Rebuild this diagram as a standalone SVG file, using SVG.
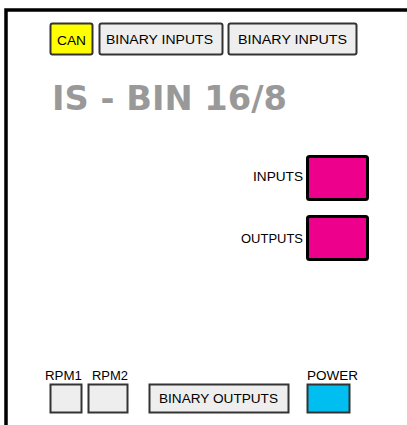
<svg xmlns="http://www.w3.org/2000/svg" width="407" height="425" viewBox="0 0 407 425">
<style>
.t{font-family:"Liberation Sans",Arial,sans-serif;font-size:12px;fill:#000}
.box{fill:#eeeeee;stroke:#333;stroke-width:2}
.pink{fill:#ec008c;stroke:#000;stroke-width:3}
</style>
<rect id="frame" x="6" y="10" width="410" height="430" fill="#fff" stroke="#000" stroke-width="3.5"/>
<g id="can"><rect x="50.5" y="23.5" width="42" height="31" rx="2" fill="#ffff00" stroke="#333" stroke-width="2"/><text class="t" x="57" y="45" textLength="29" lengthAdjust="spacingAndGlyphs">CAN</text></g>
<g id="binin1"><rect class="box" x="99.5" y="23.5" width="123" height="31" rx="2"/><text class="t" x="106" y="44" textLength="107" lengthAdjust="spacingAndGlyphs">BINARY INPUTS</text></g>
<g id="binin2"><rect class="box" x="228.5" y="23.5" width="128" height="31" rx="2"/><text class="t" x="238" y="44" textLength="109" lengthAdjust="spacingAndGlyphs">BINARY INPUTS</text></g>
<text id="title" x="52" y="110" font-family="DejaVu Sans,Verdana,sans-serif" font-weight="bold" font-size="33" fill="#999999" textLength="235" lengthAdjust="spacingAndGlyphs">IS - BIN 16/8</text>
<g id="inputs"><rect class="pink" x="307.5" y="156.5" width="60" height="43" rx="2"/><text class="t" x="303" y="181" text-anchor="end" textLength="50" lengthAdjust="spacingAndGlyphs">INPUTS</text></g>
<g id="outputs"><rect class="pink" x="307.5" y="216.5" width="60" height="43" rx="2"/><text class="t" x="303" y="243" text-anchor="end" textLength="62" lengthAdjust="spacingAndGlyphs">OUTPUTS</text></g>
<g id="rpm1"><rect class="box" x="50.5" y="384.5" width="31" height="28"/><text class="t" x="45" y="380" textLength="37" lengthAdjust="spacingAndGlyphs">RPM1</text></g>
<g id="rpm2"><rect class="box" x="88.5" y="384.5" width="39" height="28"/><text class="t" x="92" y="380" textLength="36" lengthAdjust="spacingAndGlyphs">RPM2</text></g>
<g id="binout"><rect class="box" x="149.5" y="384.5" width="139" height="28"/><text class="t" x="159" y="403" textLength="119" lengthAdjust="spacingAndGlyphs">BINARY OUTPUTS</text></g>
<g id="power"><rect x="307.5" y="384.5" width="42" height="28" fill="#00bff0" stroke="#333" stroke-width="2"/><text class="t" x="307" y="380" textLength="51" lengthAdjust="spacingAndGlyphs">POWER</text></g>
<g id="connectors"/>
</svg>
